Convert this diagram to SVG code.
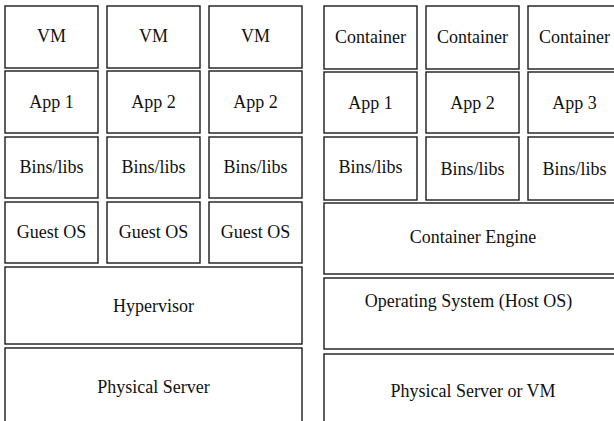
<svg xmlns="http://www.w3.org/2000/svg" width="614" height="421" viewBox="0 0 614 421">
<rect x="0" y="0" width="614" height="421" fill="#ffffff"/>
<g id="boxes" fill="#ffffff" stroke="#1a1a1a" stroke-width="1.4">
<g id="vm1"><rect x="5" y="6" width="93" height="62"/></g>
<g id="vm2"><rect x="107" y="6" width="93" height="62"/></g>
<g id="vm3"><rect x="209" y="6" width="93" height="62"/></g>
<g id="vapp1"><rect x="5" y="71" width="93" height="62"/></g>
<g id="vapp2"><rect x="107" y="71" width="93" height="62"/></g>
<g id="vapp3"><rect x="209" y="71" width="93" height="62"/></g>
<g id="vbins1"><rect x="5" y="137" width="93" height="61"/></g>
<g id="vbins2"><rect x="107" y="137" width="93" height="61"/></g>
<g id="vbins3"><rect x="209" y="137" width="93" height="61"/></g>
<g id="guest1"><rect x="5" y="202" width="93" height="61"/></g>
<g id="guest2"><rect x="107" y="202" width="93" height="61"/></g>
<g id="guest3"><rect x="209" y="202" width="93" height="61"/></g>
<g id="hypervisor"><rect x="5" y="267" width="297" height="77"/></g>
<g id="physical"><rect x="5" y="348" width="297" height="90"/></g>
<g id="c1"><rect x="324" y="6" width="93" height="63"/></g>
<g id="c2"><rect x="426" y="6" width="93" height="63"/></g>
<g id="c3"><rect x="528" y="6" width="93" height="63"/></g>
<g id="capp1"><rect x="324" y="72" width="93" height="61"/></g>
<g id="capp2"><rect x="426" y="72" width="93" height="61"/></g>
<g id="capp3"><rect x="528" y="72" width="93" height="61"/></g>
<g id="cbins1"><rect x="324" y="137" width="93" height="63"/></g>
<g id="cbins2"><rect x="426" y="137" width="93" height="63"/></g>
<g id="cbins3"><rect x="528" y="137" width="93" height="63"/></g>
<g id="engine"><rect x="324" y="203" width="298" height="71"/></g>
<g id="hostos"><rect x="324" y="278" width="298" height="71"/></g>
<g id="physvm"><rect x="324" y="354" width="298" height="90"/></g>
</g>
<g id="labels">
<text x="51.5" y="42" font-family="Times New Roman, Liberation Serif, serif" font-size="18" fill="#111111" text-anchor="middle">VM</text>
<text x="153.5" y="42" font-family="Times New Roman, Liberation Serif, serif" font-size="18" fill="#111111" text-anchor="middle">VM</text>
<text x="255.5" y="42" font-family="Times New Roman, Liberation Serif, serif" font-size="18" fill="#111111" text-anchor="middle">VM</text>
<text x="51.5" y="108" font-family="Times New Roman, Liberation Serif, serif" font-size="18" fill="#111111" text-anchor="middle">App 1</text>
<text x="153.5" y="108" font-family="Times New Roman, Liberation Serif, serif" font-size="18" fill="#111111" text-anchor="middle">App 2</text>
<text x="255.5" y="108" font-family="Times New Roman, Liberation Serif, serif" font-size="18" fill="#111111" text-anchor="middle">App 2</text>
<text x="51.5" y="173" font-family="Times New Roman, Liberation Serif, serif" font-size="18" fill="#111111" text-anchor="middle">Bins/libs</text>
<text x="153.5" y="173" font-family="Times New Roman, Liberation Serif, serif" font-size="18" fill="#111111" text-anchor="middle">Bins/libs</text>
<text x="255.5" y="173" font-family="Times New Roman, Liberation Serif, serif" font-size="18" fill="#111111" text-anchor="middle">Bins/libs</text>
<text x="51.5" y="238" font-family="Times New Roman, Liberation Serif, serif" font-size="18" fill="#111111" text-anchor="middle">Guest OS</text>
<text x="153.5" y="238" font-family="Times New Roman, Liberation Serif, serif" font-size="18" fill="#111111" text-anchor="middle">Guest OS</text>
<text x="255.5" y="238" font-family="Times New Roman, Liberation Serif, serif" font-size="18" fill="#111111" text-anchor="middle">Guest OS</text>
<text x="153.5" y="312" font-family="Times New Roman, Liberation Serif, serif" font-size="18" fill="#111111" text-anchor="middle">Hypervisor</text>
<text x="153.5" y="393" font-family="Times New Roman, Liberation Serif, serif" font-size="18" fill="#111111" text-anchor="middle">Physical Server</text>
<text x="370.5" y="43" font-family="Times New Roman, Liberation Serif, serif" font-size="18" fill="#111111" text-anchor="middle">Container</text>
<text x="472.5" y="43" font-family="Times New Roman, Liberation Serif, serif" font-size="18" fill="#111111" text-anchor="middle">Container</text>
<text x="574.5" y="43" font-family="Times New Roman, Liberation Serif, serif" font-size="18" fill="#111111" text-anchor="middle">Container</text>
<text x="370.5" y="109" font-family="Times New Roman, Liberation Serif, serif" font-size="18" fill="#111111" text-anchor="middle">App 1</text>
<text x="472.5" y="109" font-family="Times New Roman, Liberation Serif, serif" font-size="18" fill="#111111" text-anchor="middle">App 2</text>
<text x="574.5" y="109" font-family="Times New Roman, Liberation Serif, serif" font-size="18" fill="#111111" text-anchor="middle">App 3</text>
<text x="370.5" y="173" font-family="Times New Roman, Liberation Serif, serif" font-size="18" fill="#111111" text-anchor="middle">Bins/libs</text>
<text x="472.5" y="175" font-family="Times New Roman, Liberation Serif, serif" font-size="18" fill="#111111" text-anchor="middle">Bins/libs</text>
<text x="574.5" y="175" font-family="Times New Roman, Liberation Serif, serif" font-size="18" fill="#111111" text-anchor="middle">Bins/libs</text>
<text x="473" y="243" font-family="Times New Roman, Liberation Serif, serif" font-size="18" fill="#111111" text-anchor="middle">Container Engine</text>
<text x="468.5" y="307" font-family="Times New Roman, Liberation Serif, serif" font-size="18" fill="#111111" text-anchor="middle">Operating System (Host OS)</text>
<text x="473" y="397" font-family="Times New Roman, Liberation Serif, serif" font-size="18" fill="#111111" text-anchor="middle">Physical Server or VM</text>
</g>
<g id="connectors"></g>
</svg>
